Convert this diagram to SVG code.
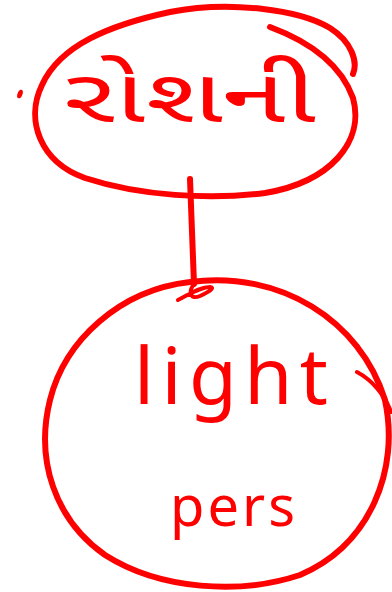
<svg xmlns="http://www.w3.org/2000/svg" width="392" height="592" viewBox="0 0 392 592">
<style>
.ink{fill:none;stroke:#ff0000;stroke-width:6;stroke-linecap:round;stroke-linejoin:round}
.thin{fill:none;stroke:#ff0000;stroke-width:4;stroke-linecap:round;stroke-linejoin:round}
.lbl{fill:#ff0000;font-family:"Noto Sans Gujarati","Liberation Sans","Noto Sans",sans-serif}
</style>
<rect width="392" height="592" fill="#ffffff"/>
<g id="node-top">
<path class="ink" d="M270,27 C305,40 340,62 353,98 C365,142 330,182 265,193 C210,200 140,196 85,178 C40,162 25,120 42,85 C60,45 110,25 170,12 C230,0 300,10 330,28 C352,42 358,62 353,74"/>
<ellipse cx="20" cy="94" rx="2.5" ry="4.5" fill="#ff0000" transform="rotate(20 20 94)"/>
<text class="lbl" x="0" y="0" font-size="74" text-anchor="middle" transform="translate(190,122) scale(1.55,1)">રોશની</text>
</g>
<g id="node-bottom">
<path class="ink" d="M190,282 C280,270 360,320 385,400 C400,470 370,545 300,575 C240,595 160,590 105,555 C55,520 35,460 50,400 C65,340 120,290 190,282"/>
<path class="thin" d="M357,372 C372,380 385,395 391,412"/>
<text class="lbl" x="134" y="404" font-size="78" textLength="194" lengthAdjust="spacing">light</text>
<text class="lbl" x="170" y="526" font-size="56" textLength="125" lengthAdjust="spacing">pers</text>
</g>
<g id="connectors">
<path class="ink" d="M190,179 L194,284"/>
<path class="thin" d="M194,284 C188,292 190,300 200,296 C208,292 216,288 210,287 C200,287 190,294 178,300"/>
</g>
</svg>
